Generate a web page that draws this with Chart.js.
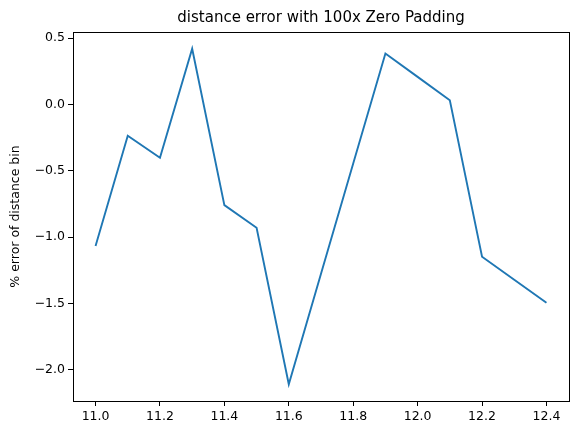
<!DOCTYPE html>
<html>
<head>
<meta charset="utf-8">
<script src="https://cdn.jsdelivr.net/npm/chart.js@4"></script>
<style>
  html, body { margin: 0; padding: 0; background: #fff; }
  #wrap { width: 578px; height: 435px; position: relative; }
</style>
</head>
<body>
<div id="wrap"><canvas id="chart"></canvas></div>
<script>
// distance error with 100x zero padding
const distances = [11.0, 11.1, 11.2, 11.3, 11.4, 11.5, 11.6, 11.7, 11.8, 11.9, 12.0, 12.1, 12.2, 12.3, 12.4];
const errorPct  = [-1.067, -0.236, -0.402, 0.420, -0.758, -0.929, -2.108, -1.275, -0.445, 0.384, 0.208, 0.032, -1.147, -1.320, -1.494];
const xTicks = [11.0, 11.2, 11.4, 11.6, 11.8, 12.0, 12.2, 12.4];
const yTicks = [-2.0, -1.5, -1.0, -0.5, 0.0, 0.5];

const FONT = 'DejaVu Sans';
const fmt = v => (v < 0 ? '\u2212' : '') + Math.abs(v).toFixed(1);

// matplotlib-style box round the axes
const frame = {
  id: 'frame',
  afterDraw(chart) {
    const { ctx, chartArea: a } = chart;
    ctx.save();
    ctx.strokeStyle = '#000';
    ctx.lineWidth = 1;
    ctx.strokeRect(Math.round(a.left) + 0.5, Math.round(a.top) + 0.5,
      Math.round(a.right - a.left), Math.round(a.bottom - a.top));
    ctx.restore();
  }
};

new Chart(document.getElementById('chart'), {
  type: 'line',
  data: {
    datasets: [{
      data: distances.map((x, i) => ({ x: x, y: errorPct[i] })),
      borderColor: '#1f77b4',
      backgroundColor: '#1f77b4',
      borderWidth: 1.9,
      pointRadius: 0,
      tension: 0
    }]
  },
  options: {
    responsive: true,
    maintainAspectRatio: false,
    animation: false,
    layout: { padding: { left: 0, right: 9, top: 0, bottom: 0 } },
    plugins: {
      legend: { display: false },
      tooltip: { enabled: false },
      title: {
        display: true,
        fullSize: false, // centre over the plot, not the canvas
        text: 'distance error with 100x Zero Padding',
        color: '#000',
        font: { family: FONT, size: 15, weight: 'normal' },
        padding: { top: 9, bottom: 5 }
      }
    },
    scales: {
      x: {
        type: 'linear',
        min: 10.93, max: 12.47,
        afterBuildTicks: axis => { axis.ticks = xTicks.map(v => ({ value: v })); },
        afterFit: axis => { axis.height = 34; },
        ticks: {
          color: '#000', font: { family: FONT, size: 12.5 }, padding: 3,
          maxRotation: 0, autoSkip: false,
          callback: v => fmt(v)
        },
        grid: { drawOnChartArea: false, drawTicks: true, tickLength: 5, color: '#000', tickWidth: 1 },
        border: { display: true, color: '#000' }
      },
      y: {
        min: -2.234, max: 0.546,
        afterBuildTicks: axis => { axis.ticks = yTicks.map(v => ({ value: v })); },
        afterFit: axis => { axis.width = 73; },
        ticks: {
          color: '#000', font: { family: FONT, size: 12.5 }, padding: 3,
          autoSkip: false,
          callback: v => fmt(v)
        },
        grid: { drawOnChartArea: false, drawTicks: true, tickLength: 5, color: '#000', tickWidth: 1 },
        border: { display: true, color: '#000' },
        title: {
          display: true,
          text: '% error of distance bin',
          color: '#000',
          font: { family: FONT, size: 12.5 },
          padding: { top: 8, bottom: 0 }
        }
      }
    }
  },
  plugins: [frame]
});
</script>
</body>
</html>
